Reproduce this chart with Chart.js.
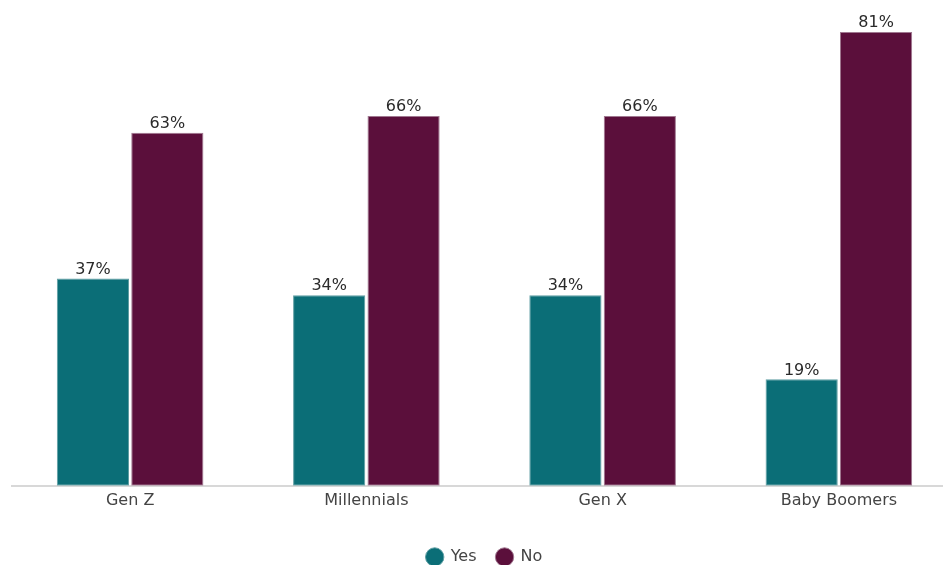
<!DOCTYPE html>
<html>
<head>
<meta charset="utf-8">
<script src="https://cdn.jsdelivr.net/npm/chart.js@4"></script>
<style>
html,body{margin:0;padding:0;background:#fff;overflow:hidden;}
#wrap{position:relative;width:958px;height:565px;}
</style>
</head>
<body>
<div id="wrap"><canvas id="c"></canvas></div>
<script>
const categories = ["Gen Z", "Millennials", "Gen X", "Baby Boomers"];
const yesValues = [37, 34, 34, 19];
const noValues = [63, 66, 66, 81];
const seriesNames = ["Yes", "No"];

const FONT = "'DejaVu Sans'";

const labelPlugin = {
  id: 'barLabels',
  afterDatasetsDraw(chart) {
    const ctx = chart.ctx;
    ctx.save();
    ctx.font = '16px ' + FONT;
    ctx.fillStyle = '#2a2a2a';
    ctx.textAlign = 'center';
    ctx.textBaseline = 'bottom';
    chart.data.datasets.forEach((ds, di) => {
      const meta = chart.getDatasetMeta(di);
      meta.data.forEach((bar, i) => {
        ctx.fillText(ds.data[i] + '%', bar.x, bar.y - 1);
      });
    });
    ctx.restore();
  }
};

new Chart(document.getElementById('c'), {
  type: 'bar',
  data: {
    labels: categories,
    datasets: [
      { label: seriesNames[0], data: yesValues, backgroundColor: '#0b6e77', borderColor: '#5f9ea3', borderWidth: 1, borderSkipped: false },
      { label: seriesNames[1], data: noValues, backgroundColor: '#5b0f3b', borderColor: '#a07890', borderWidth: 1, borderSkipped: false }
    ]
  },
  options: {
    responsive: true,
    maintainAspectRatio: false,
    animation: false,
    categoryPercentage: 0.63,
    barPercentage: 0.97,
    layout: { padding: { left: 12, right: 1, top: 32, bottom: -10 } },
    plugins: {
      legend: {
        position: 'bottom',
        labels: { usePointStyle: true, pointStyle: 'circle', boxWidth: 16, boxHeight: 13, padding: 20, color: '#444', font: { family: FONT, size: 16 } }
      },
      tooltip: { enabled: false }
    },
    scales: {
      x: {
        grid: { display: false, drawTicks: false },
        border: { color: '#d8d8d8', width: 2 },
        ticks: { color: '#444', font: { family: FONT, size: 16 }, padding: 5 },
        afterFit(scale) { scale.height += 14; }
      },
      y: {
        display: false,
        min: 0,
        max: 81
      }
    }
  },
  plugins: [labelPlugin]
});
</script>
</body>
</html>
